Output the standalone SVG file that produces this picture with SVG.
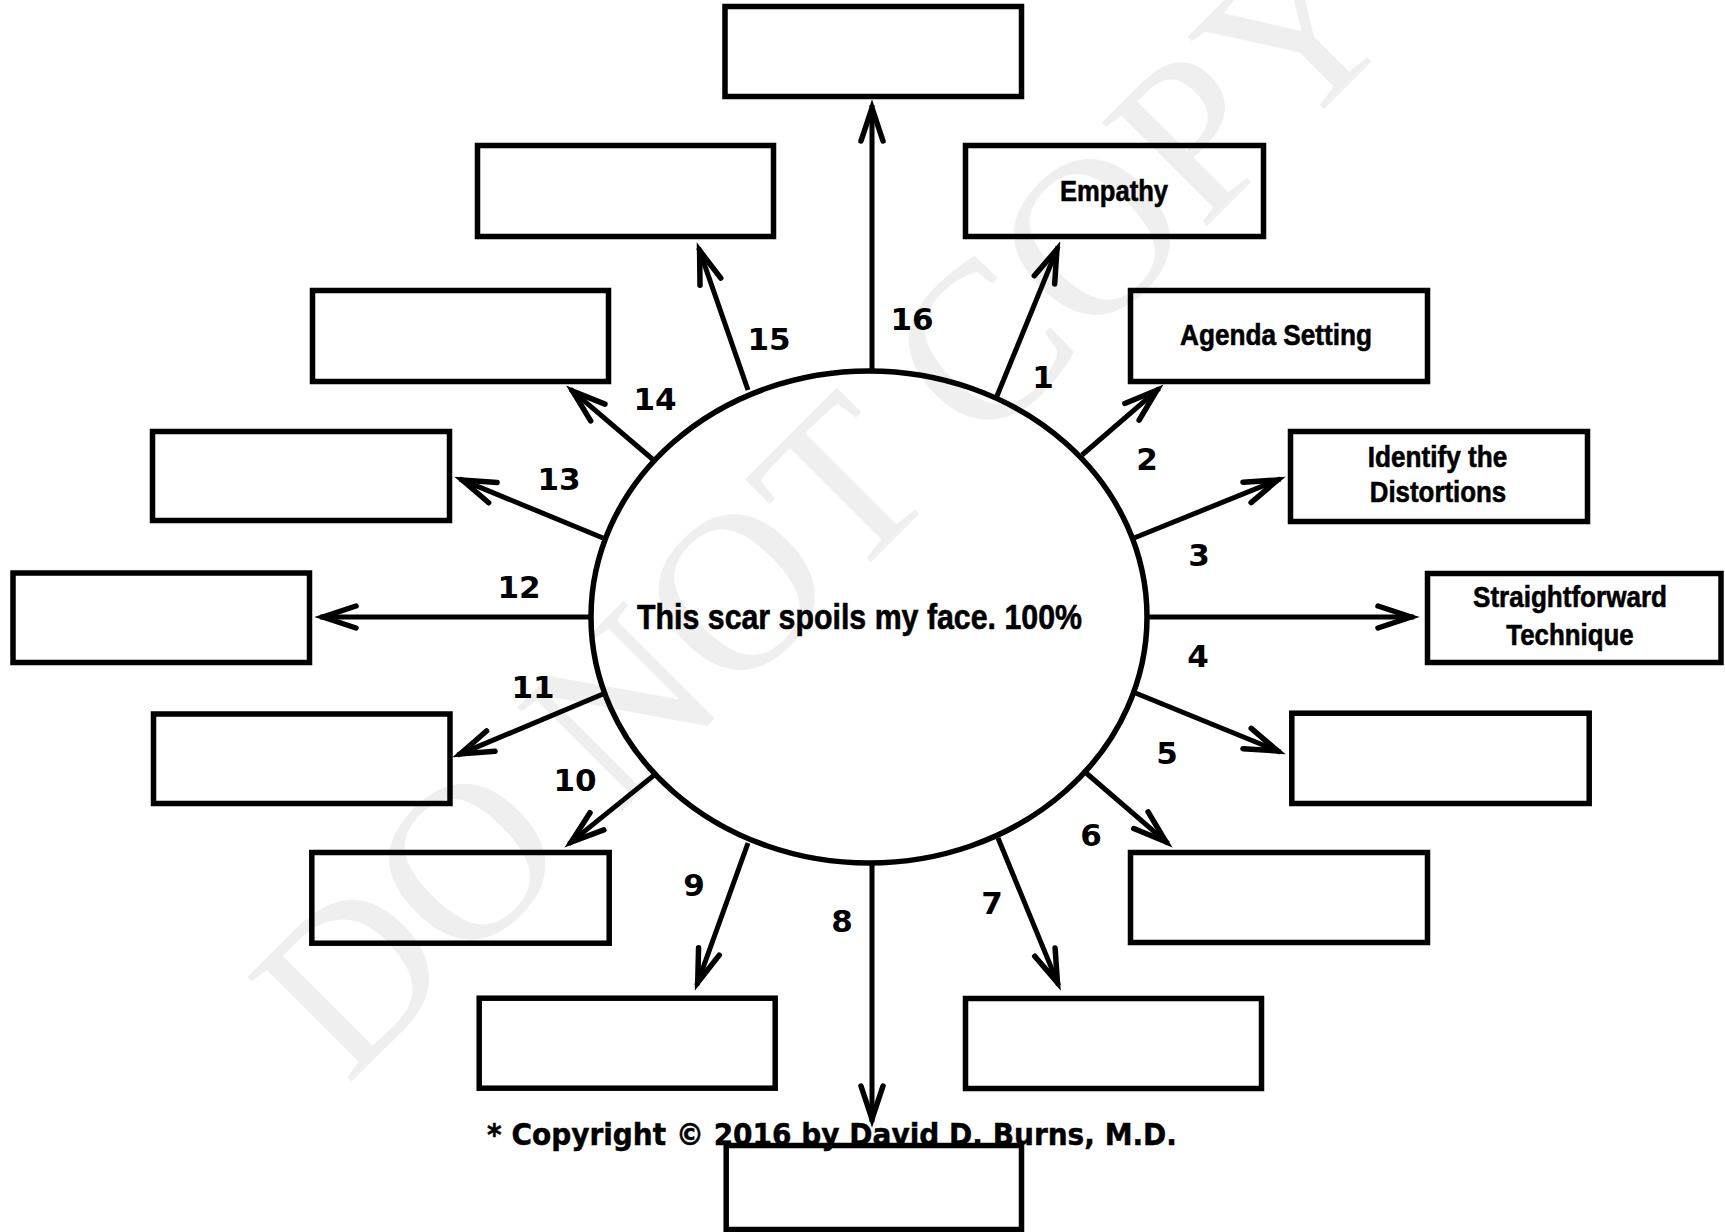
<svg xmlns="http://www.w3.org/2000/svg" width="1725" height="1232" viewBox="0 0 1725 1232">
<style>
.box{fill:none;stroke:#000;stroke-width:5.5}
.hub{fill:none;stroke:#000;stroke-width:5.5}
.con{stroke:#000;stroke-width:5;fill:none;marker-end:url(#ah)}
.lbl{font-family:'Liberation Sans Narrow','Liberation Sans',Arial,sans-serif;font-weight:bold;font-size:30px;fill:#000;stroke:#000;stroke-width:0.6;text-anchor:middle}
.num{font-family:'DejaVu Sans',Verdana,sans-serif;font-weight:bold;font-size:31px;fill:#000;text-anchor:middle}
.wm{font-family:'Liberation Serif','Times New Roman',serif;font-size:225px;fill:#efefef;text-anchor:middle}
</style>
<defs>
<marker id="ah" markerUnits="userSpaceOnUse" viewBox="-40 -16 52 32" markerWidth="52" markerHeight="32" refX="3" refY="0" orient="auto" overflow="visible">
<path d="M -33 -11 L 0 0 L -33 11" fill="none" stroke="#000" stroke-width="5.5" stroke-linecap="round" stroke-linejoin="miter" stroke-miterlimit="10"/>
</marker>
</defs>
<rect x="0" y="0" width="1725" height="1232" fill="#fff"/>
<text class="wm" transform="translate(876,557) rotate(-45)">DO NOT COPY</text>

<g id="connectors">
<line class="con" x1="872" y1="370" x2="872" y2="105"/>
<line class="con" x1="748" y1="390" x2="698.6" y2="247.7"/>
<line class="con" x1="997" y1="396" x2="1058.1" y2="246.6"/>
<line class="con" x1="653.5" y1="460" x2="570.4" y2="389.2"/>
<line class="con" x1="1082" y1="455" x2="1159.2" y2="388.3"/>
<line class="con" x1="603" y1="538" x2="459.6" y2="478.9"/>
<line class="con" x1="1134" y1="538" x2="1280.4" y2="478.9"/>
<line class="con" x1="590" y1="617" x2="320" y2="617"/>
<line class="con" x1="1147" y1="617" x2="1414" y2="617"/>
<line class="con" x1="603" y1="694" x2="457.6" y2="755.1"/>
<line class="con" x1="1133" y1="692" x2="1280.4" y2="752.1"/>
<line class="con" x1="653.5" y1="775.6" x2="568.9" y2="843.9"/>
<line class="con" x1="1085" y1="772" x2="1168.2" y2="843.7"/>
<line class="con" x1="748" y1="843" x2="696.7" y2="985.3"/>
<line class="con" x1="998" y1="838" x2="1058.6" y2="985.4"/>
<line class="con" x1="872" y1="864" x2="872" y2="1122"/>
</g>

<g id="connector-labels">
<text class="num" x="1043" y="388">1</text>
<text class="num" x="1147" y="470">2</text>
<text class="num" x="1199" y="566">3</text>
<text class="num" x="1198" y="667">4</text>
<text class="num" x="1167" y="764">5</text>
<text class="num" x="1091" y="846">6</text>
<text class="num" x="992" y="914">7</text>
<text class="num" x="842" y="932">8</text>
<text class="num" x="694" y="896">9</text>
<text class="num" x="575" y="791">10</text>
<text class="num" x="533" y="698">11</text>
<text class="num" x="519" y="598">12</text>
<text class="num" x="559" y="490">13</text>
<text class="num" x="655" y="410">14</text>
<text class="num" x="769" y="350">15</text>
<text class="num" x="912" y="330">16</text>
</g>

<g id="hub">
<ellipse class="hub" cx="869" cy="617" rx="278" ry="246"/>
<text class="lbl" x="859.5" y="629" style="font-size:35px" textLength="445" lengthAdjust="spacingAndGlyphs">This scar spoils my face. 100%</text>
</g>

<g id="node-1"><rect class="box" x="965.5" y="145.5" width="298" height="91"/>
<text class="lbl" x="1114" y="201" textLength="108" lengthAdjust="spacingAndGlyphs">Empathy</text></g>
<g id="node-2"><rect class="box" x="1130.5" y="290.5" width="297" height="91"/>
<text class="lbl" x="1276" y="344.5" textLength="192" lengthAdjust="spacingAndGlyphs">Agenda Setting</text></g>
<g id="node-3"><rect class="box" x="1290.5" y="431.5" width="297" height="90"/>
<text class="lbl" x="1437.5" y="466.5" textLength="139.5" lengthAdjust="spacingAndGlyphs">Identify the</text>
<text class="lbl" x="1438" y="501.5" textLength="136.5" lengthAdjust="spacingAndGlyphs">Distortions</text></g>
<g id="node-4"><rect class="box" x="1427.5" y="573.5" width="293.5" height="89"/>
<text class="lbl" x="1570" y="607" textLength="194" lengthAdjust="spacingAndGlyphs">Straightforward</text>
<text class="lbl" x="1570" y="645" textLength="127.5" lengthAdjust="spacingAndGlyphs">Technique</text></g>
<g id="node-5"><rect class="box" x="1291.8" y="713.2" width="297.4" height="90.3"/></g>
<g id="node-6"><rect class="box" x="1130.5" y="852.5" width="297" height="90"/></g>
<g id="node-7"><rect class="box" x="965.5" y="998.5" width="296" height="90"/></g>
<g id="node-8"><rect class="box" x="726.2" y="1145.5" width="295.3" height="84"/></g>
<g id="node-9"><rect class="box" x="479.2" y="998.2" width="296" height="90"/></g>
<g id="node-10"><rect class="box" x="311.8" y="852.5" width="297.4" height="90.7"/></g>
<g id="node-11"><rect class="box" x="153.5" y="714" width="296.5" height="89.5"/></g>
<g id="node-12"><rect class="box" x="13" y="573" width="296.5" height="89.5"/></g>
<g id="node-13"><rect class="box" x="152.5" y="431.5" width="297" height="89"/></g>
<g id="node-14"><rect class="box" x="312.5" y="290.5" width="296" height="91"/></g>
<g id="node-15"><rect class="box" x="477.5" y="145.5" width="296" height="91"/></g>
<g id="node-16"><rect class="box" x="725" y="6.5" width="296.5" height="90"/></g>

<text x="487" y="1145" font-family="'DejaVu Sans',Verdana,sans-serif" font-weight="bold" font-size="31" stroke="#000" stroke-width="0.5" textLength="690" lengthAdjust="spacingAndGlyphs" fill="#000">* Copyright © 2016 by David D. Burns, M.D.</text>
</svg>
